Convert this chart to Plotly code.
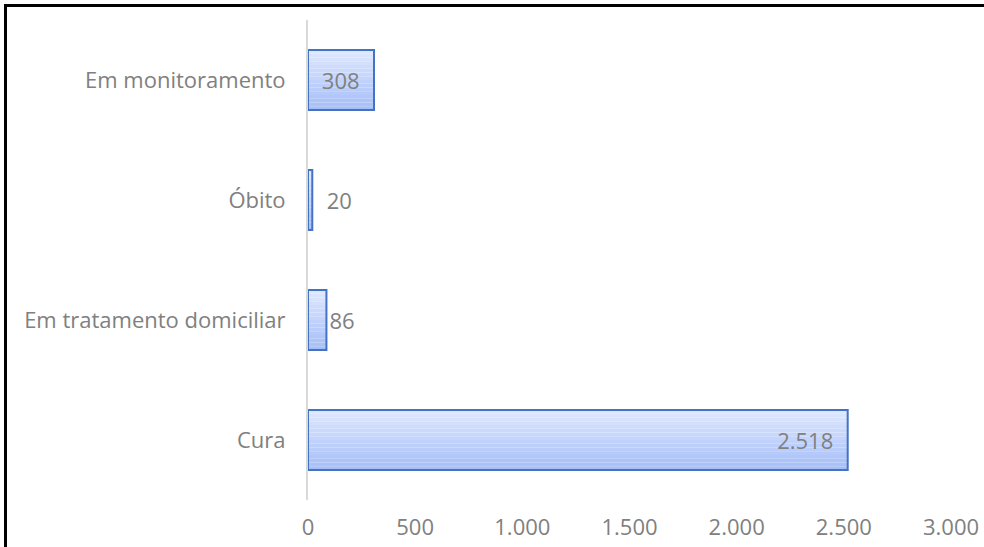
import plotly.graph_objects as go

categories = ["Cura", "Em tratamento domiciliar", "Óbito", "Em monitoramento"]
values = [2518, 86, 20, 308]
label_positions = ["inside", "outside", "outside", "inside"]
label_templates = ["%{x:,}\u00a0\u00a0", "%{x:,}", "\u00a0\u00a0%{x:,}", "%{x:,}\u00a0\u00a0"]
x_ticks = [0, 500, 1000, 1500, 2000, 2500, 3000]

# gradient colours, bottom (darker) to top (lighter)
grad_bottom = (166, 191, 248)
grad_top = (222, 231, 254)
N = 16
bar_w = 0.5
FS = 22

fig = go.Figure()
for i in range(N):
    t = i / (N - 1)
    c = tuple(round(grad_bottom[k] + (grad_top[k] - grad_bottom[k]) * t) for k in range(3))
    fig.add_trace(go.Bar(
        y=categories, x=values, orientation="h",
        width=bar_w / N, offset=-bar_w / 2 + i * bar_w / N,
        marker=dict(color="rgb(%d,%d,%d)" % c, line=dict(width=0)),
        hoverinfo="skip", showlegend=False,
    ))

fig.add_trace(go.Bar(
    y=categories, x=values, orientation="h",
    width=bar_w, offset=-bar_w / 2,
    marker=dict(color="rgba(0,0,0,0)", line=dict(color="#4472c4", width=2)),
    texttemplate=label_templates,
    textposition=label_positions,
    insidetextanchor="end",
    textfont=dict(family="Open Sans", size=FS, color="#808080"),
    cliponaxis=False,
    showlegend=False,
))

fig.update_layout(
    width=984, height=547,
    margin=dict(l=308, r=33, t=20, b=47),
    paper_bgcolor="white", plot_bgcolor="white",
    barmode="overlay",
    separators=",.",
    font=dict(family="Open Sans", size=FS, color="#808080"),
    xaxis=dict(range=[0, 3000], tickvals=x_ticks, tickformat=",",
               showgrid=False, zeroline=False, showline=False,
               ticks="", ticklabelstandoff=12, automargin=False,
               tickfont=dict(size=FS, color="#808080")),
    yaxis=dict(categoryorder="array", categoryarray=categories,
               showgrid=False, zeroline=False, showline=True,
               linecolor="#d9d9d9", linewidth=2, ticks="",
               ticklabelstandoff=16, automargin=False,
               tickfont=dict(size=FS, color="#808080")),
    shapes=[dict(type="rect", xref="paper", yref="paper",
                 xsizemode="pixel", ysizemode="pixel",
                 xanchor=0, yanchor=1,
                 x0=-302.5, x1=1000, y0=14.5, y1=-1000,
                 line=dict(color="black", width=3), layer="above")],
)

fig.write_html("out.html",
               config={"displayModeBar": False},
               post_script="document.body.style.margin='0';document.body.style.overflow='hidden';")
